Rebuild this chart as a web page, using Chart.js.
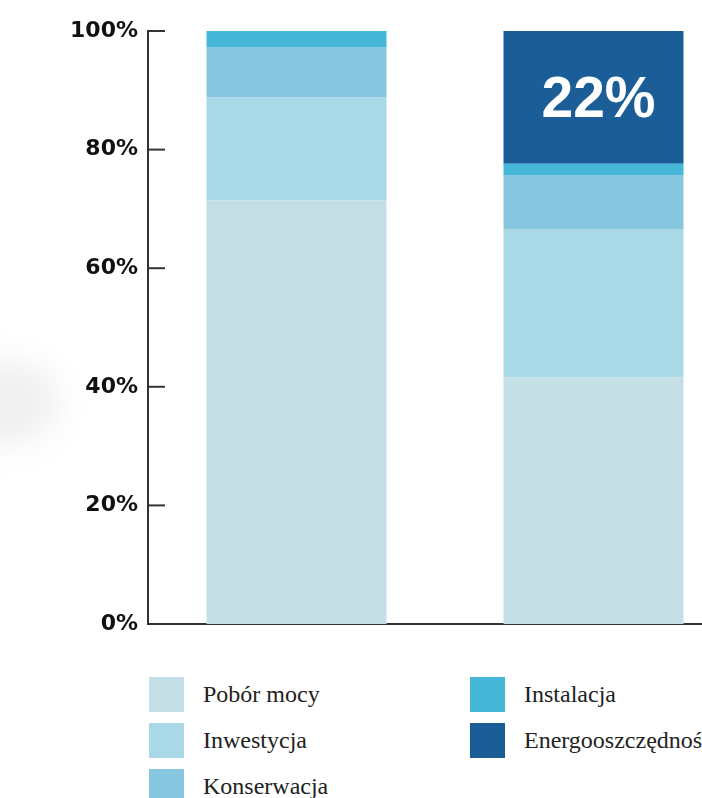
<!DOCTYPE html>
<html lang="pl">
<head>
<meta charset="utf-8">
<script src="https://cdn.jsdelivr.net/npm/chart.js@4.4.0/dist/chart.umd.min.js"></script>
<style>
    html, body { margin: 0; padding: 0; background: #fff; overflow: hidden; width: 702px; height: 798px; }
    #wrap { position: relative; width: 702px; height: 798px; overflow: hidden; }
    #cien { position: absolute; left: -50px; top: 360px; width: 110px; height: 85px; border-radius: 50%; background: #f0f0f0; filter: blur(16px); }
    #grafico1 { position: absolute; left: 0; top: 0; }
    .leyenda { position: absolute; display: flex; align-items: center; font-family: "Liberation Serif", "Times New Roman", serif; font-size: 24px; color: #222; white-space: nowrap; }
    .leyenda span.cuadro { display: inline-block; width: 35px; height: 35px; margin-right: 19px; flex: none; }
</style>
</head>
<body>
<div id="wrap">
    <div id="cien"></div>
    <canvas id="grafico1" width="742" height="660" style="width:742px;height:660px"></canvas>
</div>
<script>
// Datos (porcentajes)
const categorias = ['A', 'B'];
const series = ['Pobór mocy', 'Inwestycja', 'Konserwacja', 'Instalacja', 'Energooszczędność'];
const poborMocy = [71.4, 41.6];
const inwestycja = [17.4, 25.0];
const konserwacja = [8.5, 9.1];
const instalacja = [2.7, 1.9];
const energooszczednosc = [0, 22.4];
const colores = ['#c5dfe6', '#a9d8e6', '#86c6df', '#45b8da', '#1b5d96'];
const ticksY = [0, 20, 40, 60, 80, 100];

const valores = [poborMocy, inwestycja, konserwacja, instalacja, energooszczednosc];

// marcas cortas hacia dentro del eje Y + etiqueta "22%"
const extras = {
    id: 'extras',
    afterDraw(chart) {
        const ctx = chart.ctx;
        const y = chart.scales.y;
        const left = chart.chartArea.left;
        ctx.save();
        ctx.strokeStyle = '#333';
        ctx.lineWidth = 2;
        ticksY.forEach(v => {
            const py = y.getPixelForValue(v);
            ctx.beginPath();
            ctx.moveTo(left, py);
            ctx.lineTo(left + 17, py);
            ctx.stroke();
        });

        const meta = chart.getDatasetMeta(4);
        meta.data.forEach((bar, i) => {
            const v = energooszczednosc[i];
            if (!v) return;
            const cy = (bar.y + bar.base) / 2;
            ctx.fillStyle = '#fff';
            ctx.font = 'bold 57px "Liberation Sans", Arial, sans-serif';
            ctx.textAlign = 'center';
            ctx.textBaseline = 'alphabetic';
            ctx.fillText(Math.round(v) + '%', bar.x + 5, cy + 20);
        });
        ctx.restore();
    }
};

const grafico1 = document.getElementById('grafico1').getContext('2d');

window.grafica = new Chart(grafico1, {
    type: 'bar',
    data: {
        labels: categorias,
        datasets: series.map((s, i) => ({
            label: s,
            data: valores[i],
            backgroundColor: colores[i],
            borderWidth: 0,
            categoryPercentage: 1,
            barPercentage: 0.606
        }))
    },
    options: {
        responsive: false,
        animation: false,
        devicePixelRatio: 1,
        layout: { padding: { top: 31, bottom: 36, left: 0, right: 0 } },
        plugins: {
            legend: { display: false },
            tooltip: { enabled: false }
        },
        scales: {
            x: {
                stacked: true,
                grid: { display: false, drawTicks: false },
                border: { display: true, color: '#333', width: 2 },
                ticks: { display: false },
                afterFit: s => { s.height = 0; }
            },
            y: {
                stacked: true,
                min: 0,
                max: 100,
                grid: { display: false, drawTicks: false },
                border: { display: true, color: '#333', width: 2 },
                afterFit: s => { s.width = 148; },
                afterBuildTicks: s => { s.ticks = ticksY.map(v => ({ value: v })); },
                ticks: {
                    padding: 10,
                    color: '#111',
                    font: { family: '"DejaVu Sans", sans-serif', weight: 'bold', size: 22 },
                    callback: v => v + '%'
                }
            }
        }
    },
    plugins: [extras]
});

// Leyenda en dos columnas
const posiciones = [[149, 677], [149, 723], [149, 769], [470, 677], [470, 723]];
const wrap = document.getElementById('wrap');
series.forEach((s, i) => {
    const item = document.createElement('div');
    item.className = 'leyenda';
    item.style.left = posiciones[i][0] + 'px';
    item.style.top = posiciones[i][1] + 'px';
    item.innerHTML = '<span class="cuadro" style="background:' + colores[i] + '"></span>' + s;
    wrap.appendChild(item);
});
</script>
</body>
</html>
